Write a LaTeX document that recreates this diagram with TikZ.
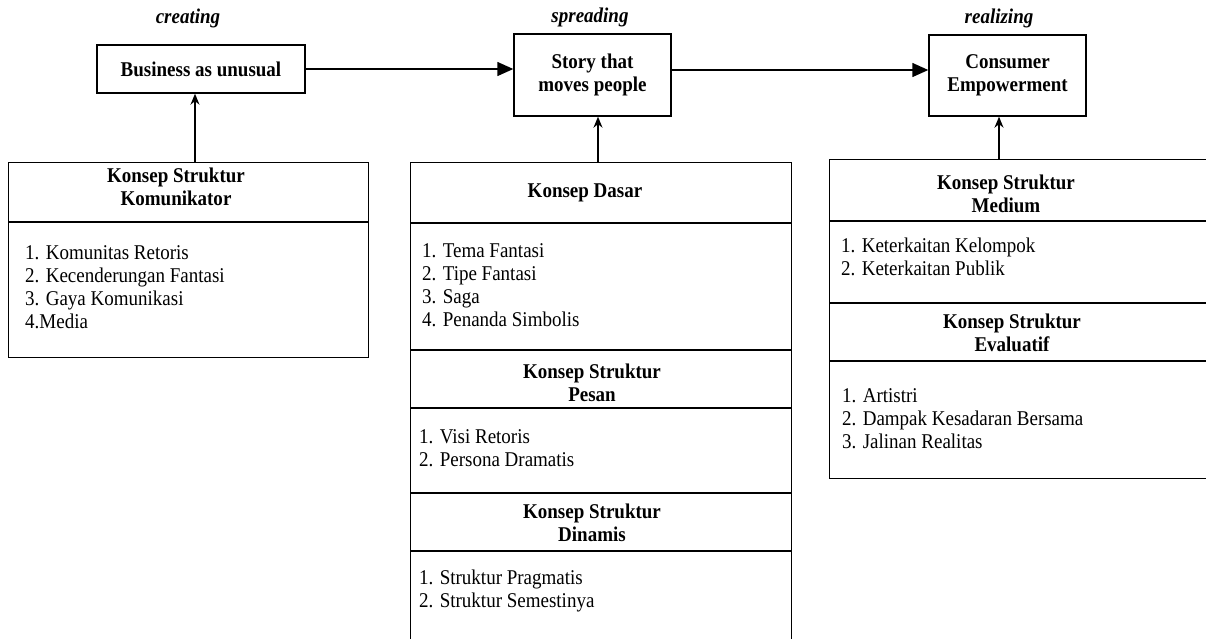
\documentclass[tikz,border=0pt]{standalone}
\usepackage{fontspec}
\setmainfont[FakeStretch=0.905]{Liberation Serif}
\usepackage{tikz}
\usetikzlibrary{arrows.meta,calc,positioning}

\begin{document}
\begin{tikzpicture}[x=1pt,y=-1pt,
  phase/.style={font=\fontsize{21}{23}\selectfont\bfseries\itshape,inner sep=0pt,anchor=base},
  topbox/.style={draw,line width=1.4pt,font=\fontsize{21}{23}\selectfont\bfseries,align=center,inner sep=0pt},
  tablebox/.style={draw,line width=1.4pt,anchor=north west,inner sep=0pt},
  rowline/.style={line width=1.4pt},
  headtext/.style={font=\fontsize{21}{23}\selectfont\bfseries,align=center,inner sep=0pt,anchor=north},
  listtext/.style={font=\fontsize{21}{23}\selectfont,align=left,inner sep=0pt,anchor=north west},
  flow/.style={-{Triangle[length=16pt,width=14pt]},line width=1.4pt},
  feed/.style={-{Stealth[length=11pt,width=9pt]},line width=1.3pt}]
 	\useasboundingbox (0,0) rectangle (1206,638);
 	\clip (0,0) rectangle (1206,638);
 	\node[phase] (creating) at (188,23) {creating};
 	\node[phase] (spreading) at (590,22) {spreading};
 	\node[phase] (realizing) at (999,23) {realizing};
 	\node[topbox,minimum width=208pt,minimum height=48pt] (business) at (201,69) {Business as unusual};
 	\node[topbox,minimum width=157pt,minimum height=82pt] (story) at (592.5,75) {Story that\\moves people};
 	\node[topbox,minimum width=157pt,minimum height=81pt] (consumer) at (1007.5,75.5) {Consumer\\Empowerment};
 	\node[tablebox,minimum width=360pt,minimum height=195pt] (leftbox) at (8,162) {};
 	\node[tablebox,minimum width=381pt,minimum height=490pt] (midbox) at (410,162) {};
 	\node[tablebox,minimum width=390pt,minimum height=319pt] (rightbox) at (829,159) {};
 	\draw[rowline] (8,222) -- (368,222);
 	\foreach \y in {223,350,408,493,551}
 		\draw[rowline] (410,\y) -- (791,\y);
 	\foreach \y in {221,303,361}
 		\draw[rowline] (829,\y) -- (1220,\y);
 	\node[headtext] (kom head) at (176,168) {Konsep Struktur\\Komunikator};
 	\node[listtext] (kom list) at (25,245) {1. Komunitas Retoris\\2. Kecenderungan Fantasi\\3. Gaya Komunikasi\\4.Media};
 	\node[headtext] (dasar head) at (585,184) {Konsep Dasar};
 	\node[listtext] (dasar list) at (422,243) {1. Tema Fantasi\\2. Tipe Fantasi\\3. Saga\\4. Penanda Simbolis};
 	\node[headtext] (pesan head) at (592,364) {Konsep Struktur\\Pesan};
 	\node[listtext] (pesan list) at (419,429) {1. Visi Retoris\\2. Persona Dramatis};
 	\node[headtext] (dinamis head) at (592,504) {Konsep Struktur\\Dinamis};
 	\node[listtext] (dinamis list) at (419,570) {1. Struktur Pragmatis\\2. Struktur Semestinya};
 	\node[headtext] (medium head) at (1006,175) {Konsep Struktur\\Medium};
 	\node[listtext] (medium list) at (841,238) {1. Keterkaitan Kelompok\\2. Keterkaitan Publik};
 	\node[headtext] (evaluatif head) at (1012,314) {Konsep Struktur\\Evaluatif};
 	\node[listtext] (evaluatif list) at (842,388) {1. Artistri\\2. Dampak Kesadaran Bersama\\3. Jalinan Realitas};
 	\draw[flow] (business.east) -- (business.east -| story.west);
 	\draw[flow] ([yshift=5pt]story.east) -- ([yshift=5pt]story.east -| consumer.west);
 	\draw[feed] ([xshift=-6pt]business.south |- leftbox.north) -- ([xshift=-6pt]business.south);
 	\draw[feed] ([xshift=5.5pt]story.south |- midbox.north) -- ([xshift=5.5pt]story.south);
 	\draw[feed] ([xshift=-8.5pt]consumer.south |- rightbox.north) -- ([xshift=-8.5pt]consumer.south);
\end{tikzpicture}
\end{document}
